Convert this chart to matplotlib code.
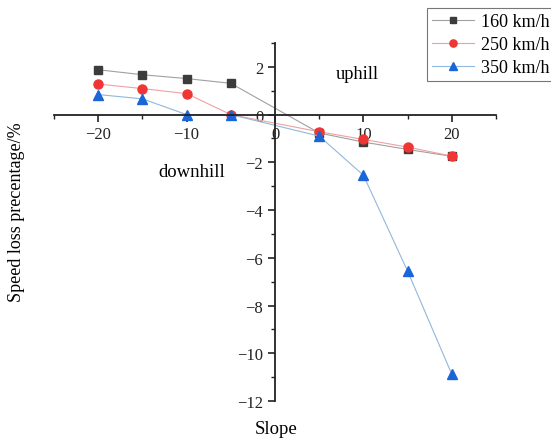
import numpy as np
import matplotlib.pyplot as plt
from matplotlib.ticker import MultipleLocator

plt.rcParams['font.family'] = 'Liberation Serif'
plt.rcParams['axes.unicode_minus'] = True

# уклон, %
slope = [-20, -15, -10, -5, 5, 10, 15, 20]
# потери скорости, %
loss_160 = [1.88, 1.67, 1.51, 1.31, -0.77, -1.15, -1.46, -1.75]
loss_250 = [1.28, 1.09, 0.88, 0.0, -0.72, -1.04, -1.36, -1.74]
loss_350 = [0.84, 0.66, 0.0, 0.0, -0.9, -2.54, -6.56, -10.88]
labels = ['160 km/h', '250 km/h', '350 km/h']

fig = plt.figure(figsize=(5.51, 4.39), dpi=100)
ax = fig.add_axes([54/551, 1 - 402/439, (496-54)/551, (402-44)/439])

ax.plot(slope, loss_160, color='#a0a0a0', lw=0.8, marker='s', ms=5.5,
        mfc='#3c3c3c', mec='#3c3c3c', label=labels[0])
ax.plot(slope, loss_250, color='#f0a0a0', lw=0.8, marker='o', ms=6.5,
        mfc='#f03535', mec='#f03535', label=labels[1])
ax.plot(slope, loss_350, color='#90b8dc', lw=0.8, marker='^', ms=7,
        mfc='#1a66d8', mec='#1a66d8', label=labels[2])

ax.set_xlim(-25, 25)
ax.set_ylim(-12, 3)
ax.spines['left'].set_position(('data', 0))
ax.spines['bottom'].set_position(('data', 0))
ax.spines['right'].set_visible(False)
ax.spines['top'].set_visible(False)
for s in ['left', 'bottom']:
    ax.spines[s].set_linewidth(1.3)
    ax.spines[s].set_color('#222222')

ax.set_xticks([-20, -10, 0, 10, 20])
ax.set_yticks([-12, -10, -8, -6, -4, -2, 0, 2])
ax.xaxis.set_minor_locator(MultipleLocator(5))
ax.yaxis.set_minor_locator(MultipleLocator(1))
ax.tick_params(which='major', length=5, width=1.2, labelsize=12, colors='#222222')
ax.tick_params(which='minor', length=3, width=1.0, colors='#222222')

fig.text(276/551, 1 - 430/439, 'Slope', ha='center', va='center', fontsize=13.5)
fig.text(17/551, 1 - 212/439, 'Speed loss precentage/%', ha='center', va='center',
         rotation=90, fontsize=13)
ax.text(9.3, 1.72, 'uphill', ha='center', va='center', fontsize=13.2)
ax.text(-9.45, -2.38, 'downhill', ha='center', va='center', fontsize=13.5)

leg = fig.legend(loc='upper left', bbox_to_anchor=(427/551, 1 - 9/439), fontsize=13,
                 frameon=True, fancybox=False, edgecolor='#555555', handlelength=2.3,
                 borderpad=0.3, labelspacing=0.32, handletextpad=0.4,
                 borderaxespad=0, markerscale=0.8)
leg.get_frame().set_linewidth(0.8)

fig.savefig('out.png', dpi=100)
